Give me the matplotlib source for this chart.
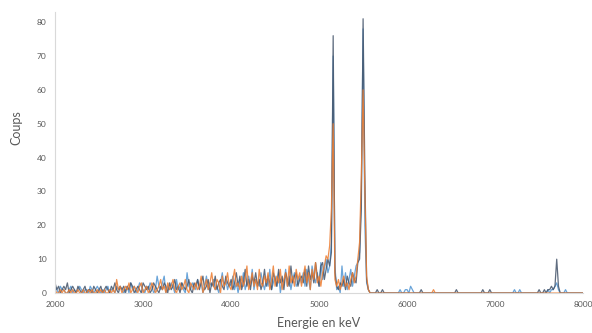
import numpy as np
from matplotlib import pyplot as plt

# energy grid, 20 keV per channel
energie = np.arange(2000, 8001, 20)

# counts, one row = 20 channels (400 keV)
bleu = [
    2, 1, 0, 2, 1, 1, 0, 0, 1, 2, 0, 1, 0, 1, 2, 1, 0, 1, 1, 0,
    2, 1, 0, 1, 2, 1, 0, 1, 0, 1, 2, 0, 1, 1, 0, 2, 1, 2, 1, 0,
    1, 2, 0, 3, 1, 2, 0, 1, 3, 2, 1, 0, 2, 1, 3, 2, 0, 1, 5, 2,
    1, 3, 5, 0, 2, 1, 3, 2, 0, 4, 1, 2, 3, 1, 0, 6, 2, 1, 3, 2,
    1, 4, 2, 3, 0, 2, 5, 1, 3, 2, 4, 1, 2, 0, 3, 6, 2, 4, 1, 3,
    2, 5, 1, 3, 0, 4, 2, 6, 1, 3, 5, 2, 7, 1, 4, 3, 2, 6, 3, 1,
    4, 2, 7, 1, 3, 5, 2, 6, 0, 4, 3, 7, 2, 5, 1, 4, 6, 2, 3, 5,
    3, 6, 2, 7, 4, 1, 8, 5, 3, 6, 2, 9, 4, 7, 10, 6, 8, 15, 70, 8,
    1, 2, 0, 8, 2, 6, 1, 4, 7, 2, 5, 8, 9, 12, 30, 78, 20, 3, 1, 0,
    0, 0, 0, 0, 0, 0, 0, 0, 0, 0, 0, 0, 0, 0, 0, 0, 1, 0, 0, 1,
    1, 0, 2, 1, 0, 0, 0, 0, 0, 0, 0, 0, 0, 0, 0, 0, 0, 0, 0, 0,
    0, 0, 0, 0, 0, 0, 0, 0, 0, 0, 0, 0, 0, 0, 0, 0, 0, 0, 0, 0,
    0, 0, 0, 0, 0, 0, 0, 0, 0, 0, 0, 0, 0, 0, 0, 0, 0, 0, 0, 0,
    0, 1, 0, 0, 1, 0, 0, 0, 0, 0, 0, 0, 0, 0, 0, 0, 0, 0, 0, 0,
    1, 0, 1, 1, 2, 3, 1, 0, 0, 0, 1, 0, 0, 0, 0, 0, 0, 0, 0, 0,
    0,
]

orange = [
    1, 0, 0, 1, 0, 1, 0, 0, 1, 0, 1, 0, 0, 1, 0, 0, 1, 0, 0, 1,
    0, 1, 0, 0, 1, 0, 1, 0, 1, 0, 0, 1, 0, 1, 0, 4, 1, 2, 0, 1,
    2, 1, 3, 0, 1, 2, 1, 0, 2, 3, 0, 1, 2, 0, 1, 3, 2, 0, 1, 2,
    4, 1, 2, 0, 3, 1, 2, 4, 1, 0, 2, 3, 1, 2, 4, 1, 0, 3, 2, 1,
    3, 1, 2, 5, 0, 2, 4, 1, 3, 6, 2, 1, 4, 3, 0, 5, 2, 3, 6, 2,
    1, 4, 7, 2, 3, 1, 5, 2, 4, 8, 1, 3, 6, 2, 4, 1, 7, 3, 2, 5,
    3, 6, 1, 4, 8, 2, 5, 3, 7, 1, 4, 6, 2, 8, 3, 5, 2, 7, 4, 6,
    2, 5, 8, 3, 6, 1, 7, 4, 9, 3, 5, 2, 6, 8, 11, 10, 14, 25, 50, 4,
    2, 4, 1, 3, 5, 2, 3, 1, 4, 6, 3, 5, 10, 15, 35, 60, 30, 5, 1, 0,
    0, 0, 0, 0, 0, 0, 0, 0, 0, 0, 0, 0, 0, 0, 0, 0, 0, 0, 0, 0,
    0, 0, 0, 0, 0, 0, 0, 0, 0, 0, 0, 0, 0, 0, 0, 1, 0, 0, 0, 0,
    0, 0, 0, 0, 0, 0, 0, 0, 0, 0, 0, 0, 0, 0, 0, 0, 0, 0, 0, 0,
    0, 0, 0, 0, 0, 0, 0, 0, 0, 0, 0, 0, 0, 0, 0, 0, 0, 0, 0, 0,
    0, 0, 0, 0, 0, 0, 0, 0, 0, 0, 0, 0, 0, 0, 0, 0, 0, 0, 0, 0,
    0, 0, 0, 0, 0, 0, 0, 0, 0, 0, 0, 0, 0, 0, 0, 0, 0, 0, 0, 0,
    0,
]

sombre = [
    3, 1, 2, 0, 1, 2, 1, 3, 0, 1, 2, 1, 0, 2, 1, 0, 1, 2, 0, 1,
    1, 0, 2, 1, 0, 1, 2, 0, 1, 2, 1, 0, 2, 1, 3, 1, 0, 2, 1, 2,
    0, 2, 1, 3, 2, 0, 1, 2, 1, 0, 3, 2, 1, 2, 0, 1, 3, 2, 1, 0,
    2, 1, 3, 2, 0, 3, 1, 2, 4, 1, 2, 0, 3, 2, 1, 2, 4, 1, 0, 3,
    2, 4, 1, 3, 5, 1, 2, 4, 0, 3, 2, 5, 1, 3, 4, 2, 1, 5, 3, 2,
    4, 1, 3, 6, 2, 5, 1, 3, 7, 2, 4, 1, 5, 3, 6, 2, 4, 1, 3, 7,
    2, 5, 3, 1, 6, 4, 2, 7, 3, 5, 1, 6, 4, 2, 8, 3, 5, 6, 2, 4,
    5, 3, 7, 2, 8, 4, 6, 3, 9, 5, 2, 8, 9, 4, 7, 10, 8, 12, 76, 6,
    2, 1, 3, 2, 4, 1, 5, 3, 2, 6, 4, 3, 9, 10, 25, 81, 35, 4, 1, 0,
    0, 0, 0, 1, 0, 0, 1, 0, 0, 0, 0, 0, 0, 0, 0, 0, 0, 0, 0, 0,
    0, 0, 0, 0, 0, 0, 0, 0, 1, 0, 0, 0, 0, 0, 0, 0, 0, 0, 0, 0,
    0, 0, 0, 0, 0, 0, 0, 0, 1, 0, 0, 0, 0, 0, 0, 0, 0, 0, 0, 0,
    0, 0, 0, 1, 0, 0, 0, 1, 0, 0, 0, 0, 0, 0, 0, 0, 0, 0, 0, 0,
    0, 0, 0, 0, 0, 0, 0, 0, 0, 0, 0, 0, 0, 0, 0, 1, 0, 0, 1, 0,
    1, 1, 2, 1, 2, 10, 2, 0, 0, 0, 0, 0, 0, 0, 0, 0, 0, 0, 0, 0,
    0,
]

plt.rcParams['font.family'] = ['Lato', 'DejaVu Sans']

fig = plt.figure(figsize=(5.92, 3.33), dpi=100)
ax = fig.add_axes([0.093, 0.12, 0.892, 0.844])

ax.plot(energie, bleu, color='#5B9BD5', lw=0.9, alpha=0.9)
ax.plot(energie, sombre, color='#44546A', lw=0.9, alpha=0.85)
ax.plot(energie, orange, color='#ED7D31', lw=0.9, alpha=0.85)

ax.set_xlim(2000, 8000)
ax.set_ylim(0, 83)
ax.set_xticks(range(2000, 8001, 1000))
ax.set_yticks(range(0, 81, 10))
ax.tick_params(length=0, labelsize=6, colors='#595959', pad=6)

for side in ['top', 'right']:
    ax.spines[side].set_visible(False)
ax.spines['left'].set_color('#D9D9D9')
ax.spines['bottom'].set_color('#D9D9D9')

ax.set_xlabel('Energie en keV', fontsize=9, color='#595959')
ax.set_ylabel('Coups', fontsize=9, color='#595959')
ax.xaxis.set_label_coords(0.5, -0.085)
ax.yaxis.set_label_coords(-0.062, 0.59)

fig.savefig('out.png', dpi=100)
